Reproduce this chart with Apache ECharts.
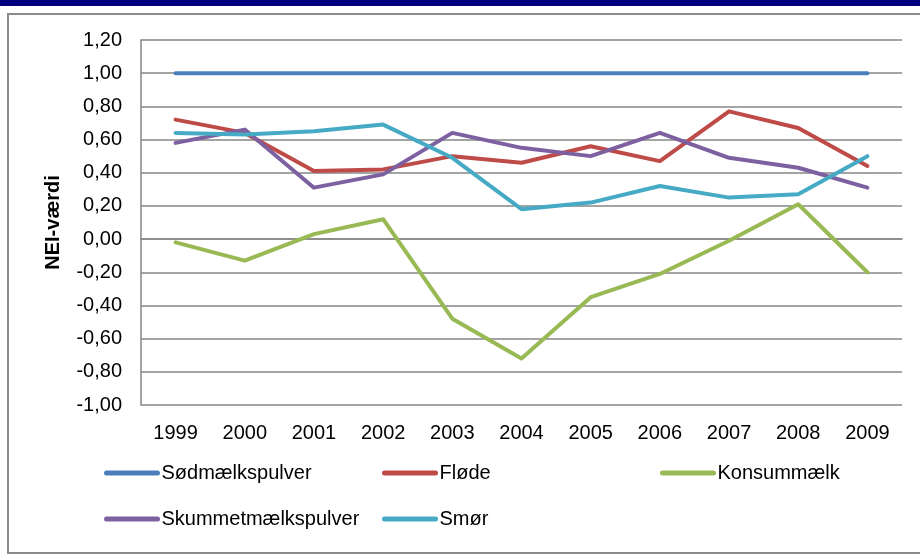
<!DOCTYPE html>
<html>
<head>
<meta charset="utf-8">
<script src="https://cdn.jsdelivr.net/npm/echarts@6/dist/echarts.min.js"></script>
<style>
  html, body { margin: 0; padding: 0; background: #fff; }
  #chart { width: 920px; height: 554px; }
</style>
</head>
<body>
<div id="chart"></div>
<script>
// data
var years = ['1999', '2000', '2001', '2002', '2003', '2004', '2005', '2006', '2007', '2008', '2009'];
var soedmaelkspulver = [1.00, 1.00, 1.00, 1.00, 1.00, 1.00, 1.00, 1.00, 1.00, 1.00, 1.00];
var floede = [0.72, 0.64, 0.41, 0.42, 0.50, 0.46, 0.56, 0.47, 0.77, 0.67, 0.44];
var konsummaelk = [-0.02, -0.13, 0.03, 0.12, -0.48, -0.72, -0.35, -0.21, -0.01, 0.21, -0.20];
var skummetmaelkspulver = [0.58, 0.66, 0.31, 0.39, 0.64, 0.55, 0.50, 0.64, 0.49, 0.43, 0.31];
var smoer = [0.64, 0.63, 0.65, 0.69, 0.49, 0.18, 0.22, 0.32, 0.25, 0.27, 0.50];

var font = '"Liberation Sans", Arial, sans-serif';
var gridGray = '#868686';

function line(name, data, color) {
    return {
        name: name,
        type: 'line',
        data: data,
        showSymbol: false,
        symbol: 'none',
        animation: false,
        lineStyle: { width: 4, color: color, cap: 'round', join: 'round' },
        itemStyle: { color: color }
    };
}

// one legend per entry so each sits where Excel put it
function legendAt(name, left, top) {
    return {
        data: [name],
        left: left,
        top: top,
        padding: 0,
        itemWidth: 51,
        itemHeight: 12,
        itemStyle: { opacity: 0 },
        lineStyle: { width: 5, cap: 'round' },
        textStyle: { fontFamily: font, fontSize: 20, color: '#000', padding: [0, 0, 0, -1] }
    };
}

var chart = echarts.init(document.getElementById('chart'));
chart.setOption({
    backgroundColor: '#fff',
    animation: false,
    textStyle: { fontFamily: font },
    graphic: [
        { type: 'rect', shape: { x: 0, y: 0, width: 920, height: 6 }, style: { fill: '#000080' } },
        { type: 'rect', shape: { x: 8, y: 14, width: 940, height: 539 }, style: { fill: 'none', stroke: '#8c8c8c', lineWidth: 2 } }
    ],
    grid: { left: 141, right: 18, top: 40, bottom: 149 },
    legend: [
        legendAt('Sødmælkspulver', 104, 463),
        legendAt('Fløde', 382, 463),
        legendAt('Konsummælk', 660, 463),
        legendAt('Skummetmælkspulver', 104, 509),
        legendAt('Smør', 382, 509)
    ],
    xAxis: {
        type: 'category',
        data: years,
        boundaryGap: true,
        axisTick: { show: false },
        axisLine: { lineStyle: { color: gridGray, width: 1.5 } },
        axisLabel: { color: '#000', fontSize: 20, fontFamily: font, margin: 18 }
    },
    yAxis: {
        type: 'value',
        min: -1,
        max: 1.2,
        interval: 0.2,
        name: 'NEI-værdi',
        nameLocation: 'middle',
        nameRotate: 90,
        nameGap: 78,
        nameTextStyle: { color: '#000', fontSize: 20, fontWeight: 'bold', fontFamily: font },
        axisLine: { show: true, lineStyle: { color: gridGray, width: 1.5 } },
        axisTick: { show: false },
        splitLine: { lineStyle: { color: gridGray, width: 1.5 } },
        axisLabel: {
            color: '#000', fontSize: 20, fontFamily: font, margin: 19,
            formatter: function (v) { return v.toFixed(2).replace('.', ','); }
        }
    },
    series: [
        line('Sødmælkspulver', soedmaelkspulver, '#4A7EBB'),
        line('Fløde', floede, '#BE4B48'),
        line('Konsummælk', konsummaelk, '#98B954'),
        line('Skummetmælkspulver', skummetmaelkspulver, '#7D60A0'),
        line('Smør', smoer, '#46AAC5')
    ]
});
</script>
</body>
</html>
